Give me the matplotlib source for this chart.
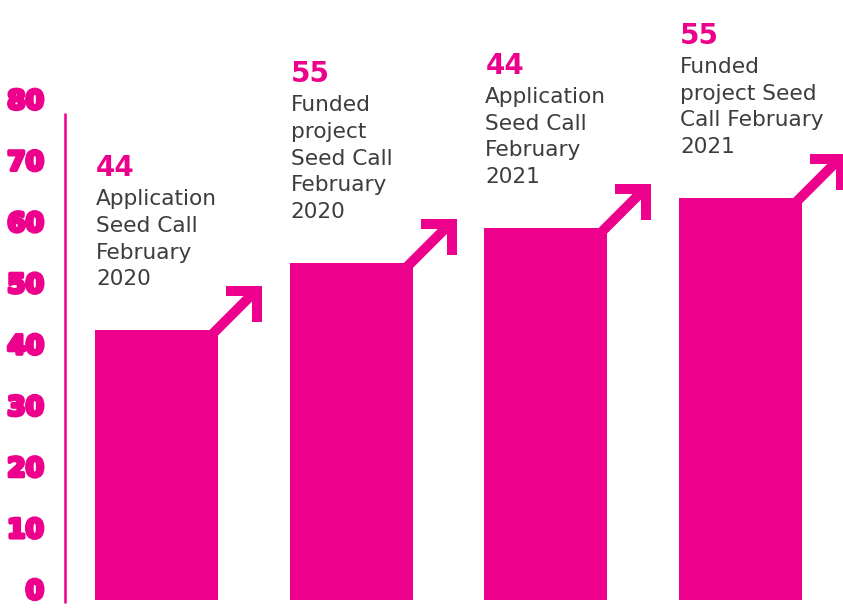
import matplotlib
matplotlib.use("Agg")
import matplotlib.pyplot as plt
from matplotlib.patches import Polygon
from matplotlib.transforms import Affine2D, ScaledTranslation, offset_copy
import matplotlib.patheffects as pe

# ---- data -------------------------------------------------------------
categories = [
    "Application Seed Call February 2020",
    "Funded project Seed Call February 2020",
    "Application Seed Call February 2021",
    "Funded project Seed Call February 2021",
]
bar_values = [44, 55, 60.7, 65.6]
headline_numbers = ["44", "55", "44", "55"]
caption_lines = [
    ["Application", "Seed Call", "February", "2020"],
    ["Funded", "project", "Seed Call", "February", "2020"],
    ["Application", "Seed Call", "February", "2021"],
    ["Funded", "project Seed", "Call February", "2021"],
]
y_ticks = [0, 10, 20, 30, 40, 50, 60, 70, 80]

# ---- style --------------------------------------------------------------
MAGENTA = "#EC008C"
TEXT_GREY = "#3d3d3d"
BAR_WIDTH = 0.632
DPI = 100

fig = plt.figure(figsize=(8.43, 6.08), dpi=DPI)
fig.patch.set_facecolor("white")
ax = fig.add_axes([65 / 843, 8 / 608, 778 / 843, 490 / 608])
ax.set_xlim(-0.470, 3.5265)
ax.set_ylim(0, 80)
ax.set_axis_off()

x = list(range(len(categories)))
ax.bar(x, bar_values, width=BAR_WIDTH, color=MAGENTA, zorder=2, linewidth=0)

# vertical axis rule
ax.plot([-0.470, -0.470], [-0.5, 79.5], color=MAGENTA, lw=1.8,
        solid_capstyle="butt", clip_on=False, zorder=3)

# y tick labels, heavy magenta digits
tick_tr = offset_copy(ax.get_yaxis_transform(), fig=fig, x=-21, y=8, units="dots")
for t in y_ticks:
    ax.text(0, t, str(t), transform=tick_tr, ha="right", va="center",
            fontsize=19, fontweight="bold", family="DejaVu Sans", color=MAGENTA,
            path_effects=[pe.withStroke(linewidth=2.6, foreground=MAGENTA,
                                        joinstyle="round")])

# arrow pieces, in pixels relative to each bar's top-right corner
head = [(8, 44), (44, 44), (44, 8), (34, 8), (34, 34), (8, 34)]
shaft = [(-9.5, -0.5), (35.5, 44.5), (42.5, 37.5), (-2.5, -7.5)]

LINE_STEP = 26.8
for i, v in enumerate(bar_values):
    xr = x[i] + BAR_WIDTH / 2
    xl = x[i] - BAR_WIDTH / 2
    anchor = Affine2D() + ScaledTranslation(xr, v, ax.transData)
    for verts in (shaft, head):
        ax.add_patch(Polygon(verts, closed=True, facecolor=MAGENTA,
                             edgecolor="none", transform=anchor,
                             clip_on=False, zorder=2))

    lines = caption_lines[i]
    n = len(lines)
    for k, line in enumerate(lines):
        dy = 45 + (n - 1 - k) * LINE_STEP
        tr = offset_copy(ax.transData, fig=fig, x=1, y=dy, units="dots")
        ax.text(xl, v, line, transform=tr, ha="left", va="baseline",
                fontsize=15.6, family="DejaVu Sans", color=TEXT_GREY)
    tr = offset_copy(ax.transData, fig=fig, x=1, y=47 + n * LINE_STEP, units="dots")
    ax.text(xl, v, headline_numbers[i], transform=tr, ha="left", va="baseline",
            fontsize=20, fontweight="bold", family="DejaVu Sans", color=MAGENTA)

fig.savefig("out.png", dpi=DPI, facecolor="white")
